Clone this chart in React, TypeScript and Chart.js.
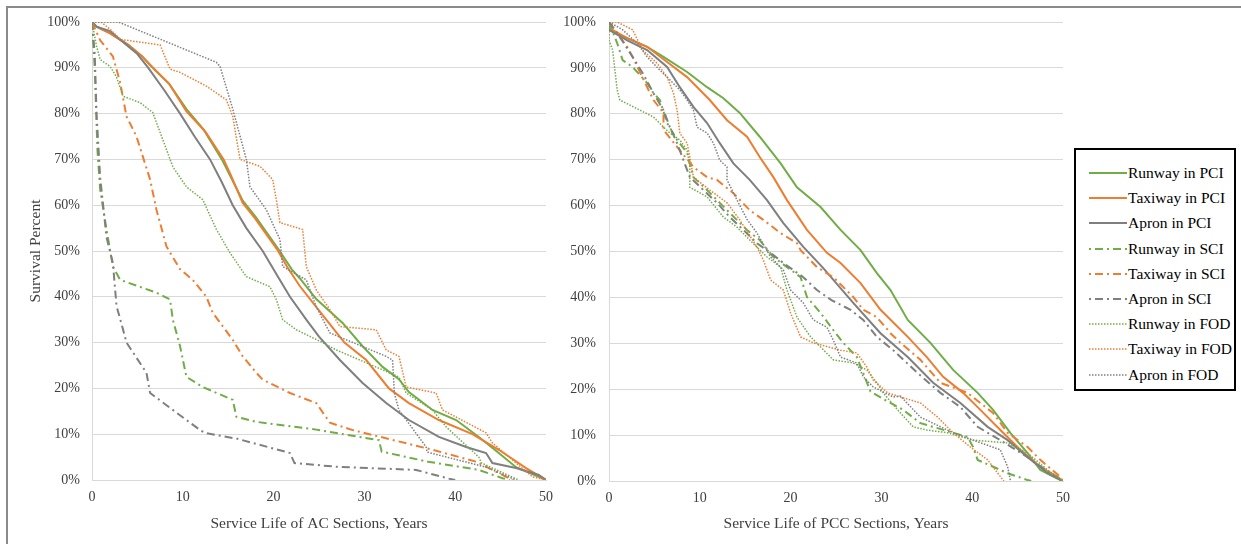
import React, { useEffect, useRef } from 'react';
import { Chart, registerables } from 'chart.js';

Chart.register(...registerables);

type P = [number, number];

const GREEN = '#70AD47';
const ORANGE = '#ED7D31';
const GRAY = '#7F7F7F';
const FONT = "'Liberation Serif', 'Times New Roman', serif";
const TEXT = '#404040';
const GRID = '#d9d9d9';

const seriesNames = [
  'Runway in PCI', 'Taxiway in PCI', 'Apron in PCI',
  'Runway in SCI', 'Taxiway in SCI', 'Apron in SCI',
  'Runway in FOD', 'Taxiway in FOD', 'Apron in FOD',
];

const xTicks = [0, 10, 20, 30, 40, 50];
const yTicks = [0, 10, 20, 30, 40, 50, 60, 70, 80, 90, 100];

// ---------- AC sections ----------
const acRunwayPCI: P[] = [[0,100],[0.5,99],[2,97.5],[4,95],[5.5,92.5],[6.7,90],[8.5,86.5],[10.4,81],[12.3,76.5],[14.3,70],[15.2,66.5],[16.6,61],[18,57.5],[20.5,50.5],[22,46],[22.9,44],[24.7,39.5],[27.6,34.3],[29.8,29.2],[32,24.7],[33.8,22],[34.9,19.2],[37.5,15.3],[40.1,13.1],[42.6,9.4],[44.8,5.9],[46.7,2.8],[49.2,0.7],[50,0]];
const acTaxiwayPCI: P[] = [[0,100],[0.5,99],[2,97.5],[4,95],[5.5,92.5],[6.7,90],[8.5,86.5],[10.4,80.5],[12.5,76],[14.5,70],[15.3,66.5],[16.6,60.5],[18,57],[20.5,50],[21.5,46.5],[22.9,42.3],[25.8,35],[27.8,30],[30.2,26.2],[32.7,20],[34.9,16.8],[38.2,13.1],[41.9,10],[44.8,6.6],[47.8,2.6],[50,0]];
const acApronPCI: P[] = [[0,100],[0.5,99],[2,98],[3.5,95.5],[5,93],[6.2,90],[8,85],[9.7,80],[11.3,75],[13,70],[14.3,65],[15.5,60],[17,55],[18.8,50],[20.3,45],[21.8,40],[23.6,35],[25,31.3],[27.3,26.2],[29.8,21.2],[32.4,16.8],[34.9,13.1],[38.2,9.4],[41.2,7.2],[43.4,5.9],[44.1,3.7],[46.7,2.6],[49.2,1.1],[50,0]];
const acRunwaySCI: P[] = [[0,100],[0.3,90],[0.6,72],[0.9,63.4],[1.6,54.7],[2.3,46.6],[3.1,43.7],[7.1,40.9],[8.6,39.4],[8.9,35],[9.7,29.2],[10.4,22.5],[12.2,20.3],[15.5,17.5],[15.9,13.8],[18.1,12.7],[24.7,11],[31.6,8.7],[31.9,6.2],[37,4],[42.6,2.2],[45.2,0.4],[46,0]];
const acTaxiwaySCI: P[] = [[0,100],[0.9,96],[2.3,92.5],[3.1,86.8],[3.8,79.4],[4.9,75],[5.6,70.6],[6.4,65.6],[7.1,59],[8.2,51],[9.7,46],[11.1,43.7],[12.6,40],[13.3,36.5],[15.5,30.6],[16.6,27],[18.1,23.4],[18.8,21.9],[21.8,19],[24.7,16.8],[26.2,12.5],[28.7,10.9],[37.5,6.6],[42.3,4],[44.8,1.5],[46.3,0]];
const acApronSCI: P[] = [[0,100],[0.3,93],[0.5,80],[0.9,66],[1.6,53],[2.3,47.4],[2.7,38],[3.4,33],[3.8,30],[6,23.4],[6.4,19],[8.9,15.3],[11.9,10.9],[12.4,10.3],[16,9],[21.8,5.9],[22.3,3.7],[26.9,2.9],[35.7,2.2],[39.3,0.3],[40,0]];
const acRunwayFOD: P[] = [[0,100],[0.5,94.7],[0.9,91.8],[2,90.3],[2.7,88],[3.4,83.8],[5.3,82.4],[6.7,80.2],[7.8,74.3],[8.9,68.4],[10.4,64],[12.2,61.2],[13.7,54.7],[15.2,49.6],[17,44.4],[19.6,42.2],[20.3,39.4],[21,35],[22.5,32.8],[25.4,30],[26.9,28.4],[30.2,25.6],[33.8,22.5],[34.6,19],[37.5,15.3],[39,11.6],[42.6,5],[42.9,3.7],[47,0]];
const acTaxiwayFOD: P[] = [[0,100],[1,100],[2,98.4],[3.1,96.2],[7.5,95],[8.6,89.7],[9.7,89],[12.6,86],[14.8,83],[15.5,79.4],[16.3,70],[18.5,68.5],[19.9,65.6],[20.3,61.2],[20.7,56.2],[23.2,54.7],[23.6,46.6],[24.7,41.5],[26.2,37.2],[27.3,33.5],[31.3,32.8],[32.4,28.4],[33.8,27],[34.6,20.3],[37.9,19],[38.6,15.3],[43.4,10.3],[44.1,8.1],[48.5,0.7],[50,0]];
const acApronFOD: P[] = [[0,100],[2.9,100],[13.7,91.2],[14.1,90.3],[15.5,81],[17,70],[17.4,64],[19.2,59],[20.7,52.5],[21,46.6],[23.6,43.7],[24.7,37.8],[26.2,32.1],[32.4,27],[33.1,26.2],[33.3,19],[33.8,15.3],[36.8,7.2],[36.9,6.1],[43.4,2.8],[46.7,0]];

// ---------- PCC sections ----------
const pccRunwayPCI: P[] = [[0,100],[0,98.3],[2,96.5],[4.2,94.6],[6,92.4],[8.6,89.1],[10.8,85.8],[12.6,83.4],[14.4,80.2],[16.6,75],[18.9,69.2],[20.7,64],[23.3,59.7],[25.5,54.7],[27.7,50.3],[29.5,45.3],[31,41.6],[32.9,35.1],[35.4,30.1],[37.9,24.2],[40.6,19.2],[42.3,15.5],[44.2,10.5],[46.1,6.1],[47.5,2.4],[49.7,0.2],[50,0]];
const pccTaxiwayPCI: P[] = [[0,100],[0,98.7],[2,96.5],[4.2,94.6],[6.4,91.3],[8.6,88],[11.1,83],[13,78.6],[15.2,75],[16.6,70.6],[18.1,66.2],[19.6,61.2],[21.8,54.7],[24,49.7],[25.5,47.5],[27.7,43.1],[29.9,37.3],[32.9,31.4],[35,27],[36.8,22.7],[39,19.2],[40.9,15.5],[43.1,11.1],[45.3,6.8],[47.5,3.1],[49.4,0.9],[50,0]];
const pccApronPCI: P[] = [[0,100],[0,98.3],[2,96],[4.2,93.9],[6.4,90.2],[7.8,85.8],[9.3,81.5],[10.8,78],[12.2,73.6],[13.7,69.2],[15.5,65.6],[17.4,61.2],[19.2,56.2],[21.4,51],[23.5,46.6],[26.9,38.8],[29.9,32.2],[32.9,27],[35.7,21.4],[38.7,17],[41.7,11.8],[43.9,8.9],[46.1,5.2],[48.3,1.7],[50,0]];
const pccRunwaySCI: P[] = [[0,100],[0.9,95.4],[1.5,91.7],[2.6,90.2],[4.2,86.7],[4.9,84.5],[5.6,83],[6.4,78],[7.5,74.3],[8.6,71.5],[9.3,66.2],[10.8,63.4],[12.2,60.6],[13.3,58.4],[15.2,54.7],[16.6,52.5],[18.1,48.8],[19.6,46.6],[21.1,44.4],[21.8,40.1],[23.3,36.6],[24.7,32.9],[25.8,30.1],[27.3,27],[28,23.5],[28.8,19.5],[31,17],[32.4,15.5],[34.3,12.6],[39.5,9.6],[40.1,7.4],[40.6,4.6],[43.9,1.7],[46.1,0.2],[46.5,0]];
const pccTaxiwaySCI: P[] = [[0,100],[2,94.6],[2.6,92.4],[4.2,85.8],[4.9,83],[6,80.2],[6,76.5],[7.5,72.8],[9.3,68.4],[10.8,66.2],[11.9,65.6],[13.7,62.7],[15.5,59],[17,56.9],[18.9,54],[20.7,51.8],[21.1,50.3],[22.9,46.6],[24.7,44.4],[26.9,40.1],[28,37.3],[29.5,35.7],[31,32.2],[32.1,30.1],[34.3,26.4],[36.5,21.4],[39.5,19.2],[42.3,14.8],[43.9,10.5],[46.1,7.4],[47.5,4.6],[49.7,0.9],[50,0]];
const pccApronSCI: P[] = [[0,100],[1.2,96.7],[2.6,92.4],[3.7,88.9],[4.9,84.5],[6,80.8],[6.7,77.1],[7.5,73.6],[8.2,69.9],[8.9,66.2],[10.4,63.4],[11.9,60.6],[13.3,57.5],[14.8,54.7],[16.3,51.8],[17.8,49.7],[19.2,47.5],[21.4,44.4],[22.9,41.6],[24.5,39.4],[26.6,37.3],[28,35.1],[29.5,31.4],[31.3,28.5],[34,23.5],[36.5,19.2],[38.7,16.1],[40.6,11.8],[43.1,8.9],[46.1,5.2],[48.6,1.7],[50,0]];
const pccRunwayFOD: P[] = [[0,100],[0,96],[0.4,93.9],[0.9,85.2],[1.2,83],[3.4,80.8],[4.9,79.3],[6,77.1],[6.7,75.8],[7.8,74.3],[8.6,72.1],[8.9,68.4],[8.9,64],[10.8,61.9],[12.6,57.5],[14.1,55.3],[15.5,52.5],[17.4,48.8],[18.9,46.6],[19.6,41.6],[20.7,35.7],[22.2,31.4],[24.7,26.4],[26.9,25.7],[28.4,24.2],[29.5,21.4],[30.2,19.2],[32.1,14.8],[33.5,11.8],[35,11.1],[37.3,10.5],[40.1,8.9],[43.9,8.3],[46.1,6.1],[48.3,2.4],[50,0]];
const pccTaxiwayFOD: P[] = [[0,100],[0.9,100],[2.6,98.3],[3.7,93.9],[5.3,91],[6.4,88],[7.1,84.5],[7.5,80.8],[7.8,75.8],[8.6,73.6],[8.9,70.6],[9.3,66.2],[11.1,63.4],[13,60.6],[14.4,56.9],[16.3,51],[17,48.1],[17.8,43.8],[19.2,41.6],[20,36.6],[21.1,31.4],[22.5,30.1],[25.5,28.5],[27.3,27.9],[28.4,24.8],[29.1,22],[30.7,19.2],[32.1,18.3],[34.3,17],[36.2,13.9],[37.9,10.5],[39.8,7.4],[41.7,4.6],[43.4,0.2],[43.5,0]];
const pccApronFOD: P[] = [[0,100],[1.5,98.3],[3.1,95.4],[4.2,92.4],[5.6,89.5],[6.7,87.4],[7.8,85.2],[8.6,83],[9.3,80.8],[9.7,77.1],[10.8,75.8],[11.5,73.6],[12.2,69.9],[13,68.4],[13,65.6],[14.1,61.2],[15.2,57],[16.3,54],[17.8,48.8],[19.2,46],[20,41.6],[21.4,38.8],[22.5,35.1],[24,33.5],[24.7,30.7],[25.5,27],[27.3,25.7],[28,22.7],[29.1,20.5],[31.3,18.3],[32.1,18.5],[34.3,13.9],[37.9,10.5],[40.1,8.9],[43.1,6.8],[43.9,3.1],[44.2,0.2],[44.3,0]];

const acSeries: P[][] = [acRunwayPCI, acTaxiwayPCI, acApronPCI, acRunwaySCI, acTaxiwaySCI, acApronSCI, acRunwayFOD, acTaxiwayFOD, acApronFOD];
const pccSeries: P[][] = [pccRunwayPCI, pccTaxiwayPCI, pccApronPCI, pccRunwaySCI, pccTaxiwaySCI, pccApronSCI, pccRunwayFOD, pccTaxiwayFOD, pccApronFOD];

const colors = [GREEN, ORANGE, GRAY, GREEN, ORANGE, GRAY, GREEN, ORANGE, GRAY];
const DASH_DOT = [8, 4, 2, 4];
const DOT = [1.5, 1.5];
const dashFor = (i: number) => (i < 3 ? [] : i < 6 ? DASH_DOT : DOT);
const widthFor = (i: number) => (i < 6 ? 2 : 1.5);

interface ChartProps {
  left: number;
  width: number;
  series: P[][];
  yWidth: number;
  xHeight: number;
  padRight: number;
  tickPad: number;
  xTitle: string;
  yTitle?: string;
}

function SurvivalChart(props: ChartProps) {
  const ref = useRef<HTMLCanvasElement | null>(null);
  useEffect(() => {
    if (!ref.current) return;
    const tickFont = { family: FONT, size: 14 };
    const titleFont = { family: FONT, size: 15.5 };
    const chart = new Chart(ref.current, {
      type: 'line',
      data: {
        datasets: props.series.map((d, i) => ({
          label: seriesNames[i],
          data: d.map(([x, y]) => ({ x, y })),
          borderColor: colors[i],
          backgroundColor: colors[i],
          borderWidth: widthFor(i),
          borderDash: dashFor(i),
          pointRadius: 0,
          pointHoverRadius: 0,
          fill: false,
          tension: 0,
          order: 100 - i,
        })),
      },
      options: {
        responsive: false,
        animation: false,
        events: [],
        layout: { padding: { top: 22, left: 0, right: props.padRight, bottom: 0 } },
        plugins: { legend: { display: false }, tooltip: { enabled: false } },
        scales: {
          x: {
            type: 'linear',
            min: 0,
            max: 50,
            afterBuildTicks: (s: any) => { s.ticks = xTicks.map((v) => ({ value: v })); },
            ticks: { padding: 1, font: tickFont, color: TEXT, maxRotation: 0 },
            grid: { display: false },
            border: { display: true, color: GRID, width: 1 },
            title: { display: true, text: props.xTitle, font: titleFont, color: TEXT, padding: { top: 0, bottom: 10.5 } },
            afterFit: (s: any) => { s.height = props.xHeight; },
          },
          y: {
            type: 'linear',
            min: 0,
            max: 100,
            afterBuildTicks: (s: any) => { s.ticks = yTicks.map((v) => ({ value: v })); },
            ticks: { padding: props.tickPad, font: tickFont, color: TEXT, callback: (v: any) => `${v}%` },
            grid: { color: GRID, lineWidth: 1, drawTicks: false },
            border: { display: true, color: GRID, width: 1 },
            title: {
              display: !!props.yTitle,
              text: props.yTitle || '',
              font: titleFont,
              color: TEXT,
              padding: { top: 26.5, bottom: 0 },
            },
            afterFit: (s: any) => { s.width = props.yWidth; },
          },
        },
      } as any,
    });
    return () => chart.destroy();
  }, []);
  return (
    <canvas
      ref={ref}
      width={props.width}
      height={544}
      style={{ position: 'absolute', left: props.left, top: 0, width: props.width, height: 544 }}
    />
  );
}

function LegendSample({ i }: { i: number }) {
  const dash = dashFor(i);
  return (
    <svg width={38} height={6} style={{ display: 'block' }}>
      <line
        x1={0}
        y1={3}
        x2={38}
        y2={3}
        stroke={colors[i]}
        strokeWidth={widthFor(i)}
        strokeDasharray={dash.length ? dash.join(' ') : undefined}
        strokeDashoffset={i >= 3 && i < 6 ? -6 : 0}
      />
    </svg>
  );
}

export default function App() {
  return (
    <div style={{ position: 'fixed', left: 0, top: 0, width: 1241, height: 544, background: '#fff', overflow: 'hidden' }}>
      <div
        style={{
          position: 'absolute', left: 6, top: 6, width: 1241, height: 544,
          borderTop: '2px solid #8a8a8a', borderLeft: '2px solid #8a8a8a',
        }}
      />
      <SurvivalChart
        left={0}
        width={560}
        series={acSeries}
        yWidth={92}
        xHeight={64}
        padRight={14}
        tickPad={12}
        xTitle="Service Life of AC Sections, Years"
        yTitle="Survival Percent"
      />
      <SurvivalChart
        left={560}
        width={520}
        series={pccSeries}
        yWidth={49}
        xHeight={63}
        padRight={17}
        tickPad={13}
        xTitle="Service Life of PCC Sections, Years"
      />
      <div
        style={{
          position: 'absolute', left: 1074, top: 148, width: 158, height: 239,
          border: '2px solid #000', background: '#fff', fontFamily: FONT, fontSize: 15.5, color: '#000',
        }}
      >
        {seriesNames.map((name, i) => (
          <div
            key={name}
            style={{
              position: 'absolute', left: 13, top: 12 + i * 25.2, height: 22,
              display: 'flex', alignItems: 'center', whiteSpace: 'nowrap',
            }}
          >
            <LegendSample i={i} />
            <span style={{ marginLeft: 1 }}>{name}</span>
          </div>
        ))}
      </div>
    </div>
  );
}
